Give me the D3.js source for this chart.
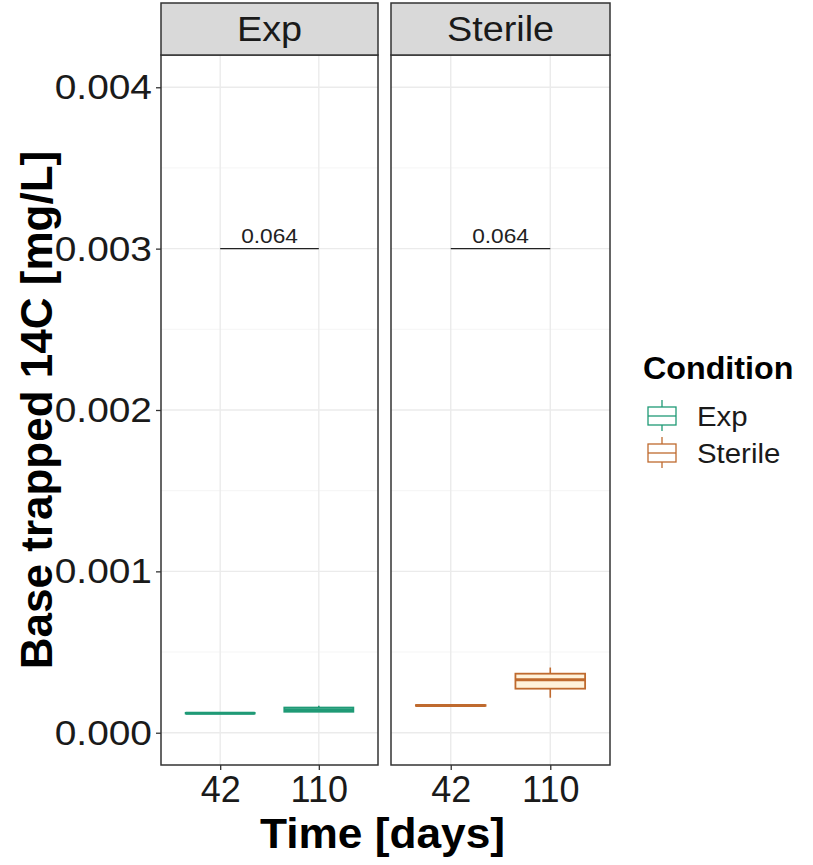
<!DOCTYPE html>
<html><head><meta charset="utf-8">
<script src="https://cdn.jsdelivr.net/npm/d3@7"></script>
<style>body{margin:0;background:#fff}svg{display:block;font-family:Arial,"Liberation Sans",sans-serif}</style>
</head><body><svg id="c" width="813" height="865"></svg>
<script>
const categories = ["42", "110"];
const conditions = ["Exp", "Sterile"];
// box stats per condition: [lower whisker, q1, median, q3, upper whisker] for each time
const expStats = [[0.000118, 0.000119, 0.000121, 0.000123, 0.000124], [0.000129, 0.000130, 0.000143, 0.000156, 0.000167]];
const sterileStats = [[0.000166, 0.000167, 0.000169, 0.000171, 0.000172], [0.000217, 0.000273, 0.000329, 0.000366, 0.000404]];
const yTicks = [0, 0.001, 0.002, 0.003, 0.004];
const yMinor = [0.0005, 0.0015, 0.0025, 0.0035];
const pLabels = ["0.064", "0.064"];
const pY = 0.003;
const strokeColors = ["#1f9a76", "#bf6a2e"];
const fillColors = ["#eef8f4", "#fff2da"];

const svg = d3.select("#c");
const topY = 55, bottomY = 765;
const panelsX = [[161, 378], [391, 610]];
const y = d3.scaleLinear().domain([-0.0002, 0.0042]).range([bottomY, topY]);
const statsByCond = [expStats, sterileStats];
const sx = 1.08; // slight horizontal stretch of text as in the reference

panelsX.forEach((px, pi) => {
  const x = d3.scalePoint().domain(categories).range([px[0], px[1]]).padding(0.6);
  const bw = x.step() * 0.7;
  const g = svg.append("g");
  g.append("rect").attr("x", px[0]).attr("y", topY).attr("width", px[1]-px[0]).attr("height", bottomY-topY).attr("fill", "#fff");
  g.selectAll(".mn").data(yMinor).join("line").attr("x1", px[0]).attr("x2", px[1])
    .attr("y1", d => y(d)).attr("y2", d => y(d)).attr("stroke", "#f2f2f2").attr("stroke-width", 0.8);
  g.selectAll(".mj").data(yTicks).join("line").attr("x1", px[0]).attr("x2", px[1])
    .attr("y1", d => y(d)).attr("y2", d => y(d)).attr("stroke", "#ebebeb").attr("stroke-width", 1.4);
  g.selectAll(".vx").data(categories).join("line").attr("x1", d => x(d)).attr("x2", d => x(d))
    .attr("y1", topY).attr("y2", bottomY).attr("stroke", "#ebebeb").attr("stroke-width", 1.4);
  const st = statsByCond[pi];
  categories.forEach((c, ci) => {
    const s = st[ci], cx = x(c), col = strokeColors[pi];
    g.append("line").attr("x1", cx).attr("x2", cx).attr("y1", y(s[3])).attr("y2", y(s[4])).attr("stroke", col).attr("stroke-width", 1.6);
    g.append("line").attr("x1", cx).attr("x2", cx).attr("y1", y(s[0])).attr("y2", y(s[1])).attr("stroke", col).attr("stroke-width", 1.6);
    g.append("rect").attr("x", cx - bw/2).attr("width", bw).attr("y", y(s[3])).attr("height", Math.max(0.01, y(s[1]) - y(s[3])))
      .attr("fill", fillColors[pi]).attr("stroke", col).attr("stroke-width", 1.8);
    g.append("line").attr("x1", cx - bw/2).attr("x2", cx + bw/2).attr("y1", y(s[2])).attr("y2", y(s[2])).attr("stroke", col).attr("stroke-width", 3);
  });
  const mx = (x(categories[0]) + x(categories[1]))/2;
  g.append("line").attr("x1", x(categories[0])).attr("x2", x(categories[1])).attr("y1", y(pY)).attr("y2", y(pY)).attr("stroke", "#222").attr("stroke-width", 1.3);
  g.append("text").attr("transform", `translate(${mx},${y(pY) - 6}) scale(${sx},1)`).attr("text-anchor", "middle")
    .attr("font-size", 21).attr("fill", "#222").text(pLabels[pi]);
  g.append("rect").attr("x", px[0]).attr("y", topY).attr("width", px[1]-px[0]).attr("height", bottomY-topY).attr("fill", "none").attr("stroke", "#333").attr("stroke-width", 1.5);
  g.append("rect").attr("x", px[0]).attr("y", 3).attr("width", px[1]-px[0]).attr("height", topY-3).attr("fill", "#d9d9d9").attr("stroke", "#333").attr("stroke-width", 1.5);
  g.append("text").attr("transform", `translate(${(px[0]+px[1])/2},29) scale(${sx},1)`).attr("dy", "0.35em").attr("text-anchor", "middle")
    .attr("font-size", 35).attr("fill", "#1a1a1a").text(conditions[pi]);
  const xa = g.append("g").attr("transform", `translate(0,${bottomY})`).call(d3.axisBottom(x).tickSize(5).tickPadding(6));
  xa.select(".domain").remove();
  xa.selectAll("line").attr("stroke", "#333").attr("stroke-width", 1.3);
  xa.selectAll("text").attr("font-size", 36).attr("fill", "#1a1a1a").attr("font-family", "Arial, 'Liberation Sans', sans-serif");
});

const ya = svg.append("g").attr("transform", `translate(${panelsX[0][0]},0)`)
  .call(d3.axisLeft(y).tickValues(yTicks).tickFormat(d3.format(".3f")).tickSize(5).tickPadding(4));
ya.select(".domain").remove();
ya.selectAll("line").attr("stroke", "#333").attr("stroke-width", 1.3);
ya.selectAll("text").attr("font-size", 36).attr("fill", "#1a1a1a").attr("font-family", "Arial, 'Liberation Sans', sans-serif")
  .attr("x", null).attr("transform", `translate(-9,0) scale(${sx},1)`);

svg.append("text").attr("transform", `translate(37,${(topY+bottomY)/2}) rotate(-90)`).attr("dy", "0.35em")
  .attr("text-anchor", "middle").attr("font-size", 44).attr("font-weight", "bold").attr("fill", "#000").text("Base trapped 14C [mg/L]");
svg.append("text").attr("transform", `translate(${(panelsX[0][0] + panelsX[1][1]) / 2 - 3},848) scale(1.03,1)`).attr("text-anchor", "middle")
  .attr("font-size", 43).attr("font-weight", "bold").attr("fill", "#000").text("Time [days]");

const lg = svg.append("g");
lg.append("text").attr("transform", `translate(643,379) scale(1.04,1)`).attr("font-size", 31).attr("font-weight", "bold").attr("fill", "#000").text("Condition");
conditions.forEach((c, i) => {
  const cy = 416 + i * 37, col = strokeColors[i];
  lg.append("line").attr("x1", 662).attr("x2", 662).attr("y1", cy - 16).attr("y2", cy + 15).attr("stroke", col).attr("stroke-width", 1.3);
  lg.append("rect").attr("x", 648).attr("y", cy - 9).attr("width", 28).attr("height", 18).attr("fill", "#fff").attr("stroke", col).attr("stroke-width", 1.3);
  lg.append("line").attr("x1", 648).attr("x2", 676).attr("y1", cy).attr("y2", cy).attr("stroke", col).attr("stroke-width", 1.3);
  lg.append("text").attr("transform", `translate(697,${cy}) scale(1.05,1)`).attr("dy", "0.35em").attr("font-size", 28).attr("fill", "#1a1a1a").text(c);
});
</script></body></html>
